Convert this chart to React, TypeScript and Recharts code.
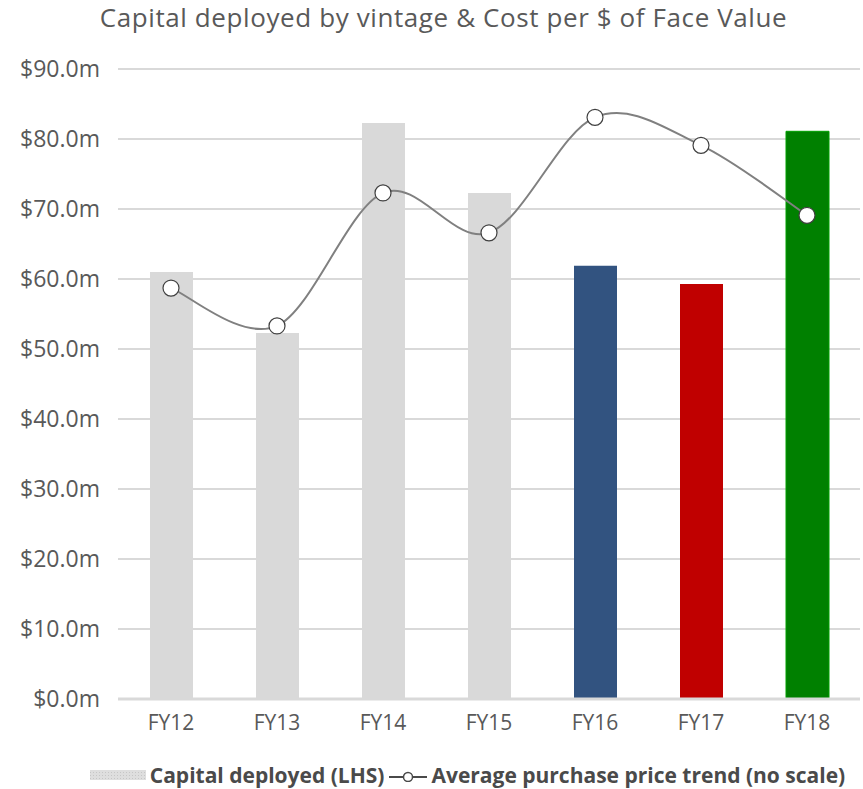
import { ComposedChart, Bar, Line, XAxis, YAxis, CartesianGrid, Cell } from 'recharts'

const years = ['FY12', 'FY13', 'FY14', 'FY15', 'FY16', 'FY17', 'FY18']
const capitalDeployed = [61.0, 52.3, 82.3, 72.3, 61.9, 59.3, 81.1]
const priceTrend = [58.7, 53.3, 72.3, 66.6, 83.1, 79.1, 69.1]
const yTicks = [0, 10, 20, 30, 40, 50, 60, 70, 80, 90]

const BAR_COLORS: Record<string, string> = {
  FY16: '#325380',
  FY17: '#c00000',
  FY18: '#008000',
}

const data = years.map((y, i) => ({
  year: y,
  capital: capitalDeployed[i],
  trend: priceTrend[i],
}))

const FONT = '"Open Sans", Lato, sans-serif'

// Excel-style smoothed line (Catmull-Rom through every point)
function smoothCurve(context: any) {
  let pts: [number, number][] = []
  return {
    areaStart() {},
    areaEnd() {},
    lineStart() {
      pts = []
    },
    point(x: number, y: number) {
      pts.push([+x, +y])
    },
    lineEnd() {
      if (!pts.length) return
      context.moveTo(pts[0][0], pts[0][1])
      for (let i = 0; i < pts.length - 1; i++) {
        const p0 = pts[i - 1] ?? pts[i]
        const p1 = pts[i]
        const p2 = pts[i + 1]
        const p3 = pts[i + 2] ?? p2
        context.bezierCurveTo(
          p1[0] + (p2[0] - p0[0]) / 6,
          p1[1] + (p2[1] - p0[1]) / 6,
          p2[0] - (p3[0] - p1[0]) / 6,
          p2[1] - (p3[1] - p1[1]) / 6,
          p2[0],
          p2[1],
        )
      }
    },
  }
}

function ChartLegend() {
  return (
    <div
      style={{
        position: 'absolute',
        top: 761,
        left: 0,
        width: 863,
        display: 'flex',
        justifyContent: 'center',
        alignItems: 'center',
        fontFamily: FONT,
        fontSize: 21,
        fontWeight: 700,
        color: '#4a4a4a',
        paddingLeft: 72,
        boxSizing: 'border-box',
        whiteSpace: 'nowrap',
      }}
    >
      <svg width={58} height={12} style={{ marginRight: 2 }}>
        <defs>
          <pattern id="hatch" width="3" height="3" patternUnits="userSpaceOnUse">
            <rect width="3" height="3" fill="#dedede" />
            <rect width="1" height="1" fill="#c6c6c6" />
          </pattern>
        </defs>
        <rect x={0} y={1} width={56} height={10} fill="url(#hatch)" />
      </svg>
      <span>Capital deployed (LHS)</span>
      <svg width={40} height={14} style={{ marginLeft: 4, marginRight: 3 }}>
        <line x1={1} y1={9} x2={39} y2={9} stroke="#4a4a4a" strokeWidth={2} />
        <circle cx={20} cy={9} r={4.5} fill="#fff" stroke="#4a4a4a" strokeWidth={1.5} />
      </svg>
      <span>Average purchase price trend (no scale)</span>
    </div>
  )
}

export default function App() {
  return (
    <div style={{ position: 'absolute', left: 0, top: 0, width: 863, height: 789, background: '#fff' }}>
      <div
        style={{
          position: 'absolute',
          top: -1,
          left: 0,
          width: 863,
          paddingLeft: 24,
          boxSizing: 'border-box',
          textAlign: 'center',
          fontFamily: FONT,
          fontSize: 26,
          letterSpacing: 0.6,
          color: '#595959',
          whiteSpace: 'nowrap',
        }}
      >
        Capital deployed by vintage &amp; Cost per $ of Face Value
      </div>
      <ComposedChart
        width={863}
        height={789}
        data={data}
        margin={{ top: 69, right: 3, bottom: 60, left: 0 }}
        barCategoryGap={0}
      >
        <CartesianGrid vertical={false} stroke="#d9d9d9" strokeWidth={2} />
        <XAxis
          dataKey="year"
          height={30}
          axisLine={{ stroke: '#d9d9d9', strokeWidth: 3 }}
          tickLine={false}
          tickSize={0}
          tickMargin={16}
          tick={{ fill: '#595959', fontSize: 21, fontFamily: FONT }}
        />
        <YAxis
          width={118}
          domain={[0, 90]}
          ticks={yTicks}
          axisLine={false}
          tickLine={false}
          tickSize={0}
          tickMargin={18}
          tickFormatter={(v: number) => `$${v.toFixed(1)}m`}
          tick={{ fill: '#595959', fontSize: 23, fontFamily: FONT }}
        />
        <Bar dataKey="capital" barSize={43} isAnimationActive={false}>
          {data.map((d) => (
            <Cell
              key={d.year}
              fill={BAR_COLORS[d.year] ?? '#d9d9d9'}
              stroke={d.year === 'FY18' ? '#00a000' : 'none'}
              strokeWidth={1}
            />
          ))}
        </Bar>
        <Line
          dataKey="trend"
          type={smoothCurve as any}
          stroke="#808080"
          strokeWidth={2}
          dot={{ r: 8, fill: '#fff', stroke: '#404040', strokeWidth: 1.2 }}
          isAnimationActive={false}
        />
      </ComposedChart>
      <ChartLegend />
    </div>
  )
}
